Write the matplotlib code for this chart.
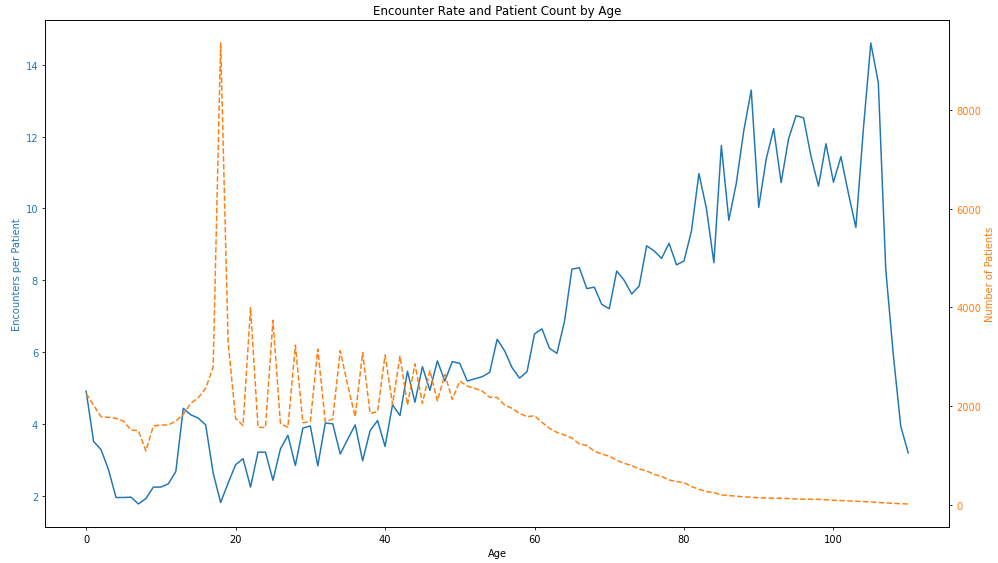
import numpy as np
import matplotlib.pyplot as plt

ages = list(range(0, 111))

encounters_per_patient = [
    4.92, 3.52, 3.29, 2.73, 1.96, 1.96, 1.97, 1.78, 1.93, 2.25,
    2.25, 2.34, 2.68, 4.44, 4.26, 4.17, 3.98, 2.64, 1.82, 2.36,
    2.87, 3.04, 2.25, 3.22, 3.22, 2.44, 3.31, 3.69, 2.85, 3.89,
    3.95, 2.84, 4.03, 4.01, 3.17, 3.58, 3.98, 2.98, 3.82, 4.10,
    3.38, 4.54, 4.24, 5.47, 4.61, 5.60, 4.94, 5.76, 5.20, 5.74,
    5.69, 5.20, 5.26, 5.32, 5.44, 6.36, 6.04, 5.57, 5.28, 5.46,
    6.51, 6.65, 6.11, 5.97, 6.85, 8.31, 8.35, 7.77, 7.81, 7.33,
    7.21, 8.26, 8.00, 7.62, 7.84, 8.96, 8.82, 8.61, 9.03, 8.43,
    8.54, 9.37, 10.97, 10.00, 8.49, 11.75, 9.67, 10.70, 12.16, 13.29,
    10.03, 11.37, 12.22, 10.72, 11.94, 12.58, 12.52, 11.44, 10.62, 11.80,
    10.73, 11.44, 10.42, 9.47, 12.20, 14.60, 13.50, 8.30, 5.95, 3.95,
    3.20,
]

patient_count = [
    2262, 2020, 1790, 1778, 1757, 1703, 1521, 1508, 1097, 1602,
    1622, 1622, 1703, 1838, 2060, 2175, 2363, 2801, 9350, 3300,
    1757, 1610, 3993, 1575, 1575, 3743, 1656, 1575, 3238, 1670,
    1690, 3158, 1690, 1743, 3125, 2430, 1790, 3090, 1858, 1892,
    3040, 2040, 3016, 2026, 2860, 2060, 2725, 2110, 2645, 2141,
    2511, 2410, 2363, 2309, 2182, 2182, 2026, 1960, 1858, 1790,
    1810, 1677, 1555, 1474, 1420, 1360, 1238, 1210, 1094, 1034,
    993, 910, 848, 802, 733, 693, 626, 580, 511, 478,
    458, 377, 323, 276, 256, 208, 195, 182, 168, 162,
    150, 145, 140, 140, 135, 125, 122, 120, 118, 110,
    100, 95, 87, 80, 74, 65, 55, 47, 38, 30,
    25,
]

fig, ax1 = plt.subplots(figsize=(14, 7.91), dpi=71.3)
fig.subplots_adjust(left=0.0451, right=0.951, top=0.9628, bottom=0.0638)

ax1.plot(ages, encounters_per_patient, color='tab:blue')
ax1.set_xlabel('Age')
ax1.set_ylabel('Encounters per Patient', color='tab:blue')
ax1.tick_params(axis='y', labelcolor='tab:blue')

ax2 = ax1.twinx()
ax2.plot(ages, patient_count, color='tab:orange', linestyle='--')
ax2.set_ylabel('Number of Patients', color='tab:orange')
ax2.tick_params(axis='y', labelcolor='tab:orange')

plt.title('Encounter Rate and Patient Count by Age')
plt.savefig('out.png', dpi=71.3)
